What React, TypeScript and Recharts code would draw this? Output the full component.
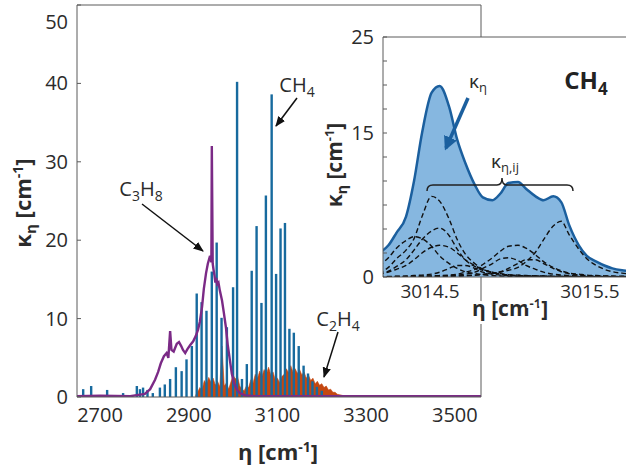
import React from 'react';
import { ComposedChart, XAxis, YAxis, Bar, Line, Area, CartesianGrid } from 'recharts';

const font = '"Open Sans", "Noto Sans", sans-serif';
const ink = '#2b2b2b';
const frame = '#5a5a5a';

// ---- main panel: kappa vs wavenumber (cm-1) ----
const mainEtaLabels = [2700, 2900, 3100, 3300, 3500];
const frameTickEta = [2763, 2876, 2991, 3103, 3216, 3329, 3444];
const mainKappaTicks = [0, 10, 20, 30, 40, 50];

// CH4 line positions and peak heights (stick spectrum)
const ch4Eta = [2662, 2680, 2716, 2752, 2783, 2790, 2797, 2807, 2819, 2835, 2846, 2858, 2871, 2884, 2895, 2907, 2918, 2929, 2940, 2952, 2963, 2974, 2986, 3000, 3009, 3020, 3031, 3042, 3053, 3064, 3074, 3087, 3097, 3107, 3117, 3127, 3137, 3148, 3159, 3169, 3179, 3189, 3200];
const ch4Kappa = [1.0, 1.4, 0.9, 0.5, 1.4, 1.0, 1.2, 0.9, 0.5, 1.2, 1.6, 2.3, 3.8, 3.3, 4.8, 6.5, 13.2, 12.1, 11.0, 16.0, 19.7, 10.1, 8.9, 14.0, 40.2, 2.3, 4.2, 16.1, 21.8, 12.0, 25.7, 38.6, 15.7, 21.5, 22.2, 8.7, 8.2, 6.5, 4.0, 3.0, 2.0, 1.3, 0.8];

// C3H8 continuous band
const c3h8Eta = [2648, 2700, 2768, 2801, 2813, 2824, 2831, 2837, 2844, 2850, 2854, 2858, 2861, 2866, 2873, 2878, 2883, 2887, 2892, 2897, 2903, 2910, 2916, 2921, 2925, 2930, 2934, 2939, 2943, 2948, 2951, 2952, 2954, 2956, 2958, 2960, 2962, 2964, 2967, 2970, 2975, 2979, 2984, 2988, 2993, 2997, 3002, 3008, 3015, 3027, 3049, 3559];
const c3h8Kappa = [0.1, 0.15, 0.1, 0.4, 1.0, 2.2, 3.2, 4.3, 5.2, 5.6, 5.0, 8.4, 6.0, 5.8, 6.8, 7.0, 6.5, 6.0, 5.6, 6.1, 6.6, 7.1, 7.8, 8.6, 9.6, 11.5, 13.8, 15.8, 17.0, 18.0, 17.2, 32.0, 17.0, 16.2, 15.5, 14.6, 15.2, 14.4, 14.6, 13.6, 12.3, 10.8, 8.8, 6.6, 4.6, 3.0, 1.8, 1.0, 0.5, 0.2, 0.1, 0.1];

// C2H4 band
const c2h4Eta = [2915, 2920, 2925, 2930, 2935, 2940, 2945, 2950, 2955, 2960, 2965, 2970, 2975, 2980, 2985, 2990, 2995, 3000, 3005, 3010, 3015, 3020, 3025, 3030, 3035, 3040, 3045, 3050, 3055, 3060, 3065, 3070, 3075, 3080, 3085, 3090, 3095, 3100, 3105, 3110, 3115, 3120, 3125, 3130, 3135, 3140, 3145, 3150, 3155, 3160, 3165, 3170, 3175, 3180, 3185, 3190, 3195, 3200, 3205, 3210, 3215, 3220, 3225, 3230, 3235, 3240, 3250, 3260];
const c2h4Kappa = [0.2, 0.6, 1.2, 0.9, 2.1, 1.6, 2.5, 1.9, 2.4, 1.5, 2.0, 1.3, 6.5, 1.4, 1.8, 1.0, 1.9, 2.8, 2.3, 2.6, 1.4, 1.0, 0.8, 1.4, 1.2, 2.2, 1.8, 2.9, 2.4, 3.3, 2.6, 3.5, 2.9, 3.8, 2.8, 3.2, 2.2, 2.4, 1.8, 2.6, 2.9, 3.6, 3.1, 4.0, 3.2, 3.6, 3.0, 3.5, 2.8, 3.2, 2.4, 2.8, 2.1, 2.4, 1.7, 2.0, 1.5, 1.7, 1.2, 1.4, 0.9, 1.0, 0.6, 0.6, 0.35, 0.3, 0.15, 0.08];

// ---- inset: single CH4 line ----
const insetEtaLabels = [3014.5, 3015.5];
const insetFrameTicks = [3014.4, 3014.6, 3014.8, 3015.0, 3015.2, 3015.4, 3015.6];
const insetKappaTicks = [0, 2.5, 5, 7.5, 10, 12.5, 15, 17.5, 20, 22.5, 25];
const insetKappaLabels = [0, 15, 25];

const insetEta = [3014.18, 3014.24, 3014.29, 3014.35, 3014.40, 3014.45, 3014.51, 3014.56, 3014.62, 3014.67, 3014.72, 3014.78, 3014.83, 3014.89, 3014.94, 3014.99, 3015.05, 3015.10, 3015.16, 3015.21, 3015.27, 3015.32, 3015.37, 3015.43, 3015.48, 3015.54, 3015.59, 3015.64, 3015.70, 3015.75];
const kappaTotal = [2.5, 3.3, 4.6, 6.3, 10.0, 15.0, 19.2, 19.9, 17.7, 14.3, 11.9, 9.6, 8.3, 8.0, 8.7, 9.8, 9.9, 9.2, 8.4, 8.0, 8.4, 7.8, 5.4, 3.3, 2.2, 1.6, 1.2, 0.9, 0.7, 0.6];
const lineA = [0.4, 1.0, 1.9, 2.8, 4.0, 6.3, 8.4, 7.9, 6.0, 3.9, 2.4, 1.4, 0.8, 0.5, 0.3, 0.2, 0.15, 0.1, 0.1, 0.08, 0.07, 0.06, 0.05, 0.05, 0.04, 0.04, 0.03, 0.03, 0.03, 0.03];
const lineB = [0.3, 0.6, 1.1, 1.8, 2.8, 3.9, 4.8, 5.1, 4.3, 2.9, 1.8, 1.1, 0.7, 0.45, 0.3, 0.2, 0.15, 0.1, 0.08, 0.07, 0.06, 0.05, 0.05, 0.04, 0.04, 0.03, 0.03, 0.03, 0.03, 0.02];
const lineC = [0.3, 0.5, 0.8, 1.2, 1.8, 2.5, 3.1, 3.3, 3.1, 2.5, 1.8, 1.2, 0.8, 0.5, 0.35, 0.25, 0.2, 0.15, 0.12, 0.1, 0.08, 0.07, 0.06, 0.05, 0.05, 0.04, 0.04, 0.03, 0.03, 0.03];
const lineD = [1.2, 2.0, 3.0, 3.8, 4.2, 4.0, 3.2, 2.2, 1.4, 0.9, 0.55, 0.35, 0.25, 0.15, 0.1, 0.08, 0.07, 0.06, 0.05, 0.05, 0.04, 0.04, 0.03, 0.03, 0.03, 0.02, 0.02, 0.02, 0.02, 0.02];
const lineE = [0.05, 0.06, 0.08, 0.1, 0.15, 0.2, 0.3, 0.5, 0.9, 1.2, 1.2, 0.9, 0.5, 0.3, 0.2, 0.15, 0.1, 0.08, 0.06, 0.05, 0.04, 0.04, 0.03, 0.03, 0.03, 0.02, 0.02, 0.02, 0.02, 0.02];
const lineF = [0.02, 0.02, 0.03, 0.03, 0.04, 0.05, 0.07, 0.1, 0.15, 0.2, 0.3, 0.5, 0.9, 1.4, 1.9, 2.0, 1.7, 1.2, 0.8, 0.5, 0.3, 0.2, 0.15, 0.1, 0.08, 0.06, 0.05, 0.04, 0.03, 0.03];
const lineG = [0.03, 0.04, 0.05, 0.06, 0.07, 0.09, 0.11, 0.15, 0.2, 0.3, 0.5, 0.8, 1.3, 2.0, 2.7, 3.2, 3.3, 3.0, 2.3, 1.6, 1.0, 0.65, 0.4, 0.3, 0.2, 0.15, 0.12, 0.1, 0.08, 0.07];
const lineH = [0.02, 0.02, 0.02, 0.03, 0.03, 0.04, 0.05, 0.06, 0.08, 0.1, 0.13, 0.18, 0.25, 0.35, 0.5, 0.9, 1.4, 1.8, 1.8, 1.4, 0.9, 0.55, 0.35, 0.2, 0.15, 0.1, 0.08, 0.06, 0.05, 0.04];
const lineI = [0.03, 0.03, 0.04, 0.04, 0.05, 0.06, 0.07, 0.08, 0.1, 0.12, 0.15, 0.2, 0.28, 0.4, 0.55, 0.7, 1.0, 1.6, 2.6, 3.9, 5.3, 5.8, 4.4, 2.9, 1.9, 1.2, 0.8, 0.55, 0.4, 0.3];

const components: Record<string, number[]> = { lineA, lineB, lineC, lineD, lineE, lineF, lineG, lineH, lineI };

// merged table for the main panel (one row per wavenumber)
const mainRows = (() => {
  const rows = new Map<number, any>();
  const put = (eta: number[], vals: number[], key: string) =>
    eta.forEach((e, i) => {
      const r = rows.get(e) ?? { eta: e };
      r[key] = vals[i];
      rows.set(e, r);
    });
  put(ch4Eta, ch4Kappa, 'ch4');
  put(c3h8Eta, c3h8Kappa, 'c3h8');
  put(c2h4Eta, c2h4Kappa, 'c2h4');
  return Array.from(rows.values()).sort((a, b) => a.eta - b.eta);
})();

const insetRows = insetEta.map((eta, i) => {
  const r: any = { eta, total: kappaTotal[i] };
  Object.keys(components).forEach((k) => (r[k] = components[k][i]));
  return r;
});

function MainYTick(props: any) {
  const { x, y, payload } = props;
  // top label sits a bit below its tick in the figure
  const shift = payload.value === 50 ? 13 : 0;
  return (
    <text x={x} y={y + shift} dy="0.35em" textAnchor="end" fontSize={20} fill={ink} fontFamily={font}>
      {payload.value}
    </text>
  );
}

// thin stick centred on the line position
function Stick(props: any) {
  const { x, y, width, height, fill } = props;
  if (!Number.isFinite(height) || !Number.isFinite(y) || height <= 0) return null;
  const cx = x + width / 2;
  return <rect x={cx - 1.2} y={y} width={2.4} height={height} fill={fill} />;
}

const tickFont = { fontSize: 20, fill: ink, fontFamily: font };

export default function App() {
  return (
    <div style={{ position: 'absolute', left: 0, top: 0, width: 626, height: 468, overflow: 'hidden', background: '#fff', fontFamily: font }}>
      {/* main panel */}
      <div style={{ position: 'absolute', left: 0, top: 0 }}>
        <ComposedChart width={626} height={468} data={mainRows} margin={{ top: 4, right: 144, bottom: 0, left: 0 }}>
          <XAxis dataKey="eta" type="number" domain={[2648, 3559]} allowDataOverflow ticks={mainEtaLabels}
            tick={tickFont} tickLine={false} tickSize={0} tickMargin={11} height={71} stroke={frame} />
          <XAxis xAxisId="top" orientation="top" dataKey="eta" type="number" domain={[2648, 3559]} allowDataOverflow
            ticks={frameTickEta} tick={false} tickSize={-4} height={1} stroke={frame} />
          <YAxis type="number" domain={[0, 50]} allowDataOverflow ticks={mainKappaTicks} tick={<MainYTick />}
            tickSize={-4} tickMargin={13} width={77} stroke={frame} />
          <YAxis yAxisId="right" orientation="right" type="number" domain={[0, 50]} allowDataOverflow
            ticks={mainKappaTicks} tick={false} tickSize={-4} width={1} stroke={frame} />
          <Bar dataKey="ch4" fill="#176a9e" barSize={2} shape={<Stick />} isAnimationActive={false} />
          <Area dataKey="c2h4" type="linear" connectNulls fill="#c4470f" stroke="#c4470f" strokeWidth={0.6}
            fillOpacity={1} dot={false} activeDot={false} isAnimationActive={false} />
          <Line dataKey="c3h8" type="linear" connectNulls stroke="#7b2a86" strokeWidth={2.4}
            dot={false} activeDot={false} isAnimationActive={false} />
        </ComposedChart>
      </div>

      {/* inset */}
      <div style={{ position: 'absolute', left: 300, top: 0 }}>
        <ComposedChart width={326} height={340} data={insetRows} margin={{ top: 36, right: 0, bottom: 0, left: 0 }}>
          <CartesianGrid horizontal={false} vertical={false} fill="#fff" fillOpacity={1} />
          <XAxis dataKey="eta" type="number" domain={[3014.206, 3015.725]} allowDataOverflow ticks={insetEtaLabels}
            tick={{ ...tickFont, fontSize: 19 }} tickLine={false} tickSize={0} tickMargin={8} height={63} stroke={frame} />
          <XAxis xAxisId="top" orientation="top" dataKey="eta" type="number" domain={[3014.206, 3015.725]} allowDataOverflow
            ticks={insetFrameTicks} tick={false} tickSize={-4} height={1} stroke={frame} />
          <YAxis type="number" domain={[0, 25]} allowDataOverflow ticks={insetKappaTicks}
            tickFormatter={(v: number) => (insetKappaLabels.includes(v) ? String(v) : '')}
            tick={tickFont} tickSize={-4} tickMargin={13} width={83} stroke={frame} />
          <Area dataKey="total" type="monotone" fill="#86b7e0" fillOpacity={1} stroke="#1b5f9e" strokeWidth={2.5}
            dot={false} activeDot={false} isAnimationActive={false} />
          {Object.keys(components).map((k) => (
            <Line key={k} dataKey={k} type="monotone" stroke="#111" strokeWidth={1.4} strokeDasharray="5 3"
              dot={false} activeDot={false} isAnimationActive={false} />
          ))}
        </ComposedChart>
      </div>

      {/* titles and annotations */}
      <svg width={626} height={468} style={{ position: 'absolute', left: 0, top: 0, pointerEvents: 'none' }} fontFamily={font}>
        <defs>
          <marker id="ah" viewBox="0 0 10 10" refX="9" refY="5" markerWidth="7" markerHeight="7" orient="auto">
            <path d="M0,1 L10,5 L0,9 z" fill="#111" />
          </marker>
          <marker id="ahBlue" viewBox="0 0 10 10" refX="8" refY="5" markerWidth="4" markerHeight="4" orient="auto">
            <path d="M0,0 L10,5 L0,10 z" fill="#1b5f9e" />
          </marker>
        </defs>

        {/* main axis titles */}
        <text x={278} y={460} textAnchor="middle" fontSize={22} fontWeight="bold" fill={ink}>
          η [cm<tspan dy={-8} fontSize={14}>-1</tspan><tspan dy={8}>]</tspan>
        </text>
        <text transform="translate(31,203) rotate(-90)" textAnchor="middle" fontSize={22} fontWeight="bold" fill={ink}>
          κ<tspan dy={5} fontSize={15}>η</tspan><tspan dy={-5}> [cm</tspan><tspan dy={-8} fontSize={14}>-1</tspan><tspan dy={8}>]</tspan>
        </text>

        {/* species labels */}
        <text x={297} y={92} textAnchor="middle" fontSize={20} fill={ink}>
          CH<tspan dy={5} fontSize={14}>4</tspan>
        </text>
        <line x1={297} y1={98} x2={276} y2={126} stroke="#111" strokeWidth={1.5} markerEnd="url(#ah)" />
        <text x={141} y={196} textAnchor="middle" fontSize={20} fill={ink}>
          C<tspan dy={5} fontSize={14}>3</tspan><tspan dy={-5}>H</tspan><tspan dy={5} fontSize={14}>8</tspan>
        </text>
        <line x1={142} y1={204} x2={203} y2={251} stroke="#111" strokeWidth={1.5} markerEnd="url(#ah)" />
        <text x={338} y={326} textAnchor="middle" fontSize={20} fill={ink}>
          C<tspan dy={5} fontSize={14}>2</tspan><tspan dy={-5}>H</tspan><tspan dy={5} fontSize={14}>4</tspan>
        </text>
        <line x1={338} y1={332} x2={324} y2={377} stroke="#111" strokeWidth={1.5} markerEnd="url(#ah)" />

        {/* inset axis titles */}
        <text x={510} y={316} textAnchor="middle" fontSize={21} fontWeight="bold" fill={ink}
          stroke="#fff" strokeWidth={6} style={{ paintOrder: 'stroke' }}>
          η [cm<tspan dy={-8} fontSize={13}>-1</tspan><tspan dy={8}>]</tspan>
        </text>
        <text transform="translate(342,165) rotate(-90)" textAnchor="middle" fontSize={21} fontWeight="bold" fill={ink}>
          κ<tspan dy={5} fontSize={14}>η</tspan><tspan dy={-5}> [cm</tspan><tspan dy={-8} fontSize={13}>-1</tspan><tspan dy={8}>]</tspan>
        </text>

        {/* inset annotations */}
        <text x={586} y={89} textAnchor="middle" fontSize={24} fontWeight="bold" fill="#222">
          CH<tspan dy={6} fontSize={17}>4</tspan>
        </text>
        <text x={478} y={88} textAnchor="middle" fontSize={19} fill={ink}>
          κ<tspan dy={4} fontSize={13}>η</tspan>
        </text>
        <line x1={468} y1={98} x2={446} y2={148} stroke="#1b5f9e" strokeWidth={3.5} markerEnd="url(#ahBlue)" />
        <text x={505} y={168} textAnchor="middle" fontSize={19} fill={ink}>
          κ<tspan dy={4} fontSize={13}>η,ij</tspan>
        </text>
        <path d="M427,191 Q427,185 433,185 L497,185 Q502,185 502,178 Q502,185 507,185 L567,185 Q573,185 573,191"
          fill="none" stroke="#222" strokeWidth={1.5} />
      </svg>
    </div>
  );
}
